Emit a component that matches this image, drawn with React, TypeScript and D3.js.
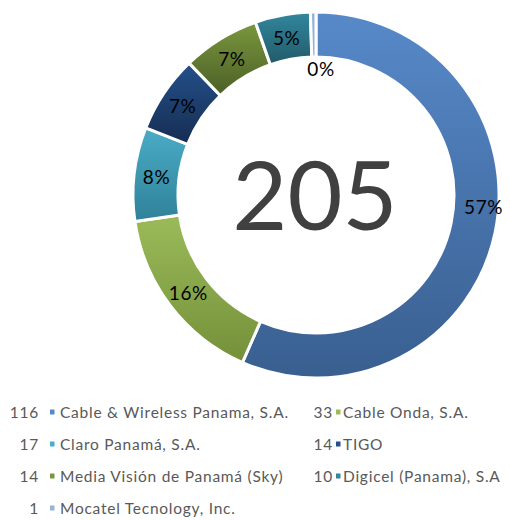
import React from "react";
import * as d3 from "d3";

const categories = [
  "Cable & Wireless Panama, S.A.",
  "Cable Onda, S.A.",
  "Claro Panamá, S.A.",
  "TIGO",
  "Media Visión de Panamá (Sky)",
  "Digicel (Panama), S.A",
  "Mocatel Tecnology, Inc.",
];
const values = [116, 33, 17, 14, 14, 10, 1];
const topColors = ["#5789c9", "#9bbb59", "#4bacc6", "#24508a", "#7a973e", "#32879e", "#95b3d7"];
const bottomColors = ["#395f90", "#74903a", "#2f8199", "#162d52", "#4c5f26", "#215a69", "#95b3d7"];
const legendOrder = [0, 1, 2, 3, 4, 5, 6];

const W = 510;
const H = 520;
const cx = 316;
const cy = 195;
const outerR = 183;
const innerR = 138;
const FONT = "Lato, 'DejaVu Sans', sans-serif";

export default function App() {
  const total = d3.sum(values);
  const pie = d3.pie<number>().sort(null).value((d) => d);
  const arcs = pie(values);
  const arc = d3.arc<d3.PieArcDatum<number>>().innerRadius(innerR).outerRadius(outerR);
  const fmt = (v: number) => `${Math.round((v / total) * 100)}%`;

  // label positions: centroid, with two manual nudges like the reference
  const labelPos = (i: number, a: d3.PieArcDatum<number>): [number, number] => {
    if (i === 0) {
      const ang = (94 * Math.PI) / 180;
      return [168 * Math.sin(ang), -168 * Math.cos(ang)];
    }
    if (i === values.length - 1) {
      return [5, -127];
    }
    return arc.centroid(a) as [number, number];
  };

  const rowY = [412, 444, 476, 508];
  const cols = [
    { numX: 39, markX: 50, textX: 60 },
    { numX: 333, markX: 336, textX: 343 },
  ];

  return (
    <svg
      width={W}
      height={H}
      style={{ position: "absolute", left: 0, top: 0, background: "#fff" }}
    >
      <defs>
        {values.map((_, i) => (
          <linearGradient key={i} id={`g${i}`} x1="0" y1="0" x2="0" y2="1">
            <stop offset="0" stopColor={topColors[i]} />
            <stop offset="1" stopColor={bottomColors[i]} />
          </linearGradient>
        ))}
      </defs>
      <g transform={`translate(${cx},${cy})`}>
        {arcs.map((a, i) => (
          <path
            key={i}
            d={arc(a) || ""}
            fill={`url(#g${i})`}
            stroke="#fff"
            strokeWidth={3}
            strokeLinejoin="miter"
          />
        ))}
        {arcs.map((a, i) => {
          const [x, y] = labelPos(i, a);
          return (
            <text
              key={i}
              x={x}
              y={y}
              textAnchor="middle"
              dominantBaseline="central"
              fontFamily={FONT}
              fontSize={19}
              letterSpacing={0.6}
              fill="#000"
            >
              {fmt(values[i])}
            </text>
          );
        })}
        <text
          x={-1}
          y={35}
          textAnchor="middle"
          fontFamily={FONT}
          fontSize={95}
          fill="#404040"
        >
          {total}
        </text>
      </g>
      <g fontFamily={FONT} fontSize={15.5} fill="#595959" letterSpacing={0.75}>
        {legendOrder.map((idx, k) => {
          const row = Math.floor(k / 2);
          const c = cols[k % 2];
          const y = rowY[row];
          return (
            <g key={idx}>
              <text x={c.numX} y={y} textAnchor="end" dominantBaseline="central">
                {values[idx]}
              </text>
              <rect x={c.markX} y={y - 2.5} width={4.5} height={5} fill={topColors[idx]} />
              <text x={c.textX} y={y} dominantBaseline="central">
                {categories[idx]}
              </text>
            </g>
          );
        })}
      </g>
    </svg>
  );
}
